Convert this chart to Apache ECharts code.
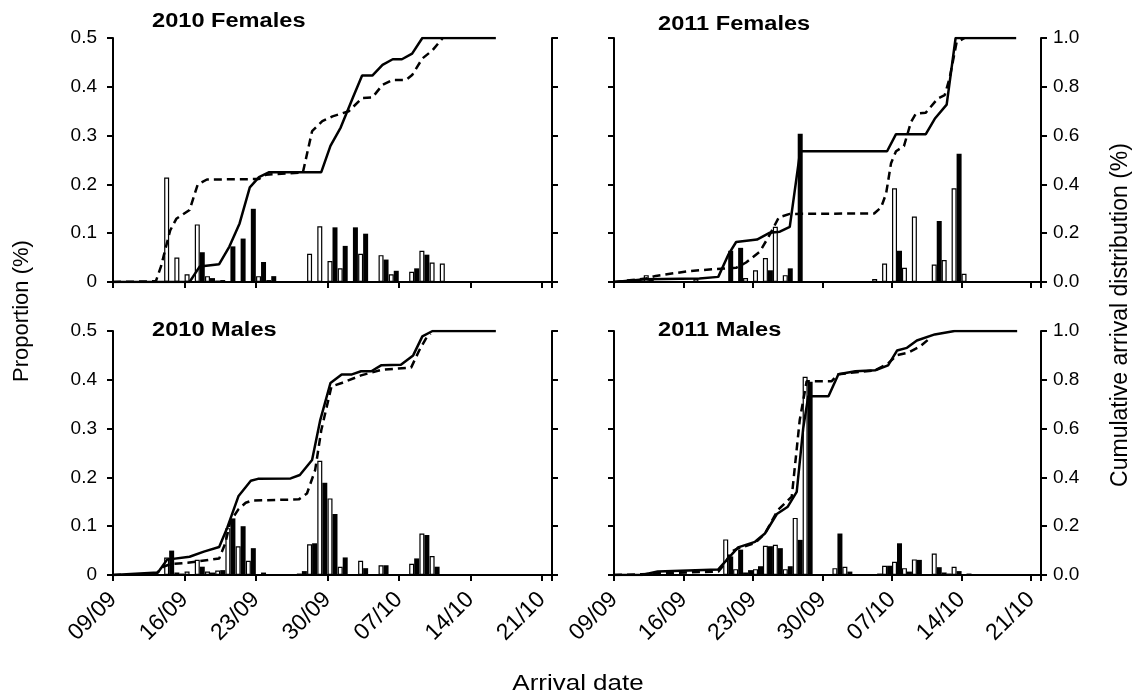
<!DOCTYPE html>
<html>
<head>
<meta charset="utf-8">
<script src="https://cdn.jsdelivr.net/npm/echarts@6/dist/echarts.min.js"></script>
<style>
  html, body { margin: 0; padding: 0; background: #fff; }
  #chart { width: 1142px; height: 700px; }
</style>
</head>
<body>
<div id="chart"></div>
<script>
// tick labels for the date axis (every 7 days from 09/09)
var tickLabels = ['09/09', '16/09', '23/09', '30/09', '07/10', '14/10', '21/10'];

// 2010 Females - daily proportions (white / black bars)
var f10Days  = [5, 6, 7, 8, 9, 10, 11, 12, 13, 14, 15, 19, 20, 21, 22, 23, 24, 26, 27, 29, 30, 31, 32];
var f10White = [0.214, 0.05, 0.016, 0.118, 0.012, 0.003, 0, 0, 0, 0.012, 0.004, 0.058, 0.114, 0.043, 0.028, 0, 0.058, 0.055, 0.016, 0.021, 0.064, 0.04, 0.038];
var f10Black = [0, 0, 0, 0.061, 0.008, 0.004, 0.073, 0.089, 0.15, 0.041, 0.012, 0, 0, 0.112, 0.074, 0.112, 0.099, 0.046, 0.023, 0.028, 0.056, 0, 0];
// cumulative curves
var f10SolidX = [0, 7.5, 8.5, 10.4, 11.4, 12.4, 13.4, 14.3, 15.3, 20.4, 21.3, 22.3, 23.5, 24.4, 25.4, 26.4, 27.4, 28.3, 29.3, 30.3, 37.5];
var f10SolidY = [0, 0, 0.064, 0.073, 0.145, 0.24, 0.388, 0.43, 0.45, 0.45, 0.558, 0.633, 0.756, 0.846, 0.846, 0.89, 0.913, 0.913, 0.936, 1.0, 1.0];
var f10DashX = [0, 4.2, 4.7, 5.1, 5.6, 6.2, 7.5, 8.3, 9.2, 14.3, 15.0, 18.6, 19.5, 20.5, 21.5, 23.1, 24.4, 25.4, 26.4, 27.4, 28.7, 29.3, 30.3, 31.3, 32.3];
var f10DashY = [0, 0.003, 0.064, 0.13, 0.211, 0.259, 0.295, 0.4, 0.42, 0.422, 0.44, 0.449, 0.618, 0.659, 0.679, 0.7, 0.754, 0.756, 0.808, 0.828, 0.828, 0.848, 0.916, 0.95, 1.0];

// 2011 Females
var f11Days  = [3, 8, 11, 12, 13, 14, 15, 16, 17, 18, 26, 27, 28, 29, 30, 32, 33, 34, 35];
var f11White = [0.014, 0.006, 0, 0, 0.008, 0.024, 0.049, 0.113, 0.014, 0, 0.006, 0.038, 0.192, 0.029, 0.134, 0.036, 0.045, 0.192, 0.017];
var f11Black = [0.005, 0, 0.064, 0.07, 0, 0, 0.024, 0, 0.028, 0.304, 0, 0, 0.064, 0, 0, 0.125, 0, 0.263, 0];
var f11SolidX = [0, 3.2, 8.6, 10.5, 11.5, 12.3, 14.4, 15.7, 16.7, 17.7, 18.75, 27.5, 28.4, 31.4, 32.3, 33.5, 34.4, 40.5];
var f11SolidY = [0, 0.011, 0.014, 0.021, 0.111, 0.164, 0.174, 0.202, 0.206, 0.226, 0.536, 0.536, 0.606, 0.606, 0.669, 0.727, 1.0, 1.0];
var f11DashX = [0, 3.2, 4.2, 7.6, 11.3, 12.3, 13.3, 14.7, 15.7, 16.6, 17.7, 26.2, 26.9, 27.4, 27.9, 28.4, 29.2, 29.9, 30.4, 31.4, 32.6, 33.3, 33.8, 34.5, 35.3];
var f11DashY = [0, 0.014, 0.025, 0.045, 0.056, 0.058, 0.08, 0.125, 0.195, 0.265, 0.279, 0.281, 0.306, 0.362, 0.487, 0.536, 0.557, 0.655, 0.69, 0.694, 0.752, 0.766, 0.836, 0.982, 1.0];

// 2010 Males
var m10Days  = [5, 6, 7, 8, 9, 10, 11, 12, 13, 14, 18, 19, 20, 21, 22, 24, 26, 29, 30, 31, 32];
var m10White = [0.036, 0.005, 0.007, 0.031, 0.007, 0.009, 0.096, 0.059, 0.029, 0.002, 0.003, 0.063, 0.234, 0.157, 0.017, 0.029, 0.02, 0.023, 0.085, 0.039, 0];
var m10Black = [0.05, 0.003, 0.002, 0.017, 0.005, 0.01, 0.116, 0.1, 0.055, 0.005, 0.008, 0.065, 0.189, 0.125, 0.036, 0.014, 0.02, 0.034, 0.082, 0.017, 0.002];
var m10SolidX = [0, 4.4, 5.3, 7.5, 8.9, 10.4, 11.2, 12.3, 13.5, 14.2, 17.4, 18.3, 19.5, 20.3, 21.3, 22.4, 23.4, 24.3, 25.3, 26.3, 28.2, 29.4, 30.3, 31.3, 37.5];
var m10SolidY = [0, 0.01, 0.063, 0.075, 0.096, 0.115, 0.195, 0.324, 0.386, 0.394, 0.396, 0.41, 0.471, 0.635, 0.787, 0.822, 0.822, 0.835, 0.835, 0.86, 0.862, 0.9, 0.978, 1.0, 1.0];
var m10DashX = [0, 4.2, 4.9, 5.7, 7.3, 10.4, 11.0, 11.5, 12.3, 13.0, 13.6, 18.2, 19.0, 19.8, 20.4, 21.4, 22.4, 24.3, 26.3, 29.2, 30.0, 30.65, 31.1];
var m10DashY = [0, 0.004, 0.034, 0.045, 0.05, 0.068, 0.13, 0.22, 0.27, 0.296, 0.305, 0.31, 0.334, 0.43, 0.593, 0.773, 0.787, 0.818, 0.841, 0.85, 0.921, 0.969, 0.989];

// 2011 Males
var m11Days  = [11, 12, 13, 14, 15, 16, 17, 18, 19, 22, 23, 26, 27, 28, 29, 30, 32, 33, 34, 35];
var m11White = [0.073, 0.012, 0.005, 0.012, 0.06, 0.062, 0.012, 0.117, 0.406, 0.014, 0.017, 0, 0.019, 0.027, 0.014, 0.032, 0.044, 0.005, 0.017, 0];
var m11Black = [0.038, 0.052, 0.01, 0.018, 0.059, 0.055, 0.018, 0.072, 0.396, 0.085, 0.007, 0.003, 0.019, 0.065, 0.007, 0.031, 0.016, 0.003, 0.008, 0.003];
var m11SolidX = [0, 2.8, 4.4, 10.5, 11.5, 12.5, 14.2, 15.2, 16.4, 17.5, 18.4, 19.05, 19.56, 21.6, 22.6, 24.3, 26.3, 27.6, 28.5, 29.5, 30.5, 32.3, 34.3, 40.6];
var m11SolidY = [0, 0, 0.014, 0.023, 0.068, 0.113, 0.136, 0.17, 0.25, 0.28, 0.341, 0.6, 0.733, 0.733, 0.823, 0.835, 0.839, 0.859, 0.92, 0.931, 0.961, 0.986, 1.0, 1.0];
var m11DashX = [0, 2.8, 4.4, 10.5, 11.2, 11.8, 12.5, 14.2, 15.2, 16.5, 17.9, 18.7, 19.4, 21.9, 22.6, 26.3, 27.6, 28.5, 29.6, 30.8, 31.8];
var m11DashY = [0, 0.003, 0.007, 0.014, 0.048, 0.095, 0.109, 0.131, 0.17, 0.266, 0.321, 0.634, 0.794, 0.794, 0.823, 0.839, 0.867, 0.901, 0.911, 0.936, 0.97];

var panels = [
    {title: '2010 Females', days: f10Days, white: f10White, black: f10Black, sx: f10SolidX, sy: f10SolidY, dx: f10DashX, dy: f10DashY},
    {title: '2011 Females', days: f11Days, white: f11White, black: f11Black, sx: f11SolidX, sy: f11SolidY, dx: f11DashX, dy: f11DashY},
    {title: '2010 Males', days: m10Days, white: m10White, black: m10Black, sx: m10SolidX, sy: m10SolidY, dx: m10DashX, dy: m10DashY},
    {title: '2011 Males', days: m11Days, white: m11White, black: m11Black, sx: m11SolidX, sy: m11SolidY, dx: m11DashX, dy: m11DashY}
];

var grids = [
    {left: 113, top: 38, width: 439, height: 244},
    {left: 614, top: 38, width: 427, height: 244},
    {left: 113, top: 331, width: 439, height: 244},
    {left: 614, top: 331, width: 427, height: 244}
];
var titlePos = [[152, 21], [658, 24], [152, 330], [658, 330]];

var FONT = 'Liberation Sans, Arial, sans-serif';
var axisLine = {show: true, lineStyle: {color: '#000', width: 2}};
var axisTick = {show: true, inside: false, length: 6, lineStyle: {color: '#000', width: 2}};

var xAxes = [], yAxes = [], series = [], graphics = [];

function zip(xs, ys) {
    return xs.map(function (x, j) { return [x, ys[j]]; });
}

panels.forEach(function (p, i) {
    var bottom = i >= 2, right = i % 2 === 1;
    xAxes.push({
        gridIndex: i, type: 'value', min: 0, max: 43, interval: 7,
        axisLine: axisLine, axisTick: axisTick, splitLine: {show: false},
        axisLabel: {
            show: bottom, rotate: 45, margin: 21, color: '#000', fontSize: 23, fontFamily: FONT,
            formatter: function (v) { return v % 7 === 0 ? tickLabels[v / 7] : ''; }
        }
    });
    yAxes.push({
        gridIndex: i, type: 'value', position: 'left', min: 0, max: 0.5, interval: 0.1,
        axisLine: axisLine, axisTick: axisTick, splitLine: {show: false},
        axisLabel: {
            show: !right, margin: 16, color: '#000', fontSize: 19, fontFamily: FONT,
            formatter: function (v) { return v === 0 ? '0' : v.toFixed(1); }
        }
    });
    yAxes.push({
        gridIndex: i, type: 'value', position: 'right', min: 0, max: 1, interval: 0.2,
        axisLine: axisLine, axisTick: axisTick, splitLine: {show: false},
        axisLabel: {
            show: right, margin: 12, color: '#000', fontSize: 19, fontFamily: FONT,
            formatter: function (v) { return v.toFixed(1); }
        }
    });

    // bars: pair of white / black per day, centred in the day slot
    series.push({
        type: 'bar', xAxisIndex: i, yAxisIndex: 2 * i, barWidth: 5, barGap: '0%',
        data: p.days.map(function (d, j) { return [d + 0.5, p.white[j]]; }),
        itemStyle: {color: '#fff', borderColor: '#000', borderWidth: 1.2}, z: 2
    });
    series.push({
        type: 'bar', xAxisIndex: i, yAxisIndex: 2 * i, barWidth: 5, barGap: '0%',
        data: p.days.map(function (d, j) { return [d + 0.5, p.black[j]]; }),
        itemStyle: {color: '#000'}, z: 2
    });
    series.push({
        type: 'line', xAxisIndex: i, yAxisIndex: 2 * i + 1, showSymbol: false,
        data: zip(p.dx, p.dy), lineStyle: {color: '#000', width: 2.5, type: [8, 5]}, z: 3
    });
    series.push({
        type: 'line', xAxisIndex: i, yAxisIndex: 2 * i + 1, showSymbol: false,
        data: zip(p.sx, p.sy), lineStyle: {color: '#000', width: 2.5}, z: 4
    });

    graphics.push({
        type: 'text', x: titlePos[i][0], y: titlePos[i][1], scaleX: 1.18,
        style: {text: p.title, fill: '#000', font: 'bold 20px ' + FONT, verticalAlign: 'middle'}
    });
});

graphics.push({
    type: 'text', x: 22, y: 311, rotation: Math.PI / 2,
    style: {text: 'Proportion (%)', fill: '#000', font: '22px ' + FONT, align: 'center', verticalAlign: 'middle'}
});
graphics.push({
    type: 'text', x: 1121, y: 315, rotation: Math.PI / 2,
    style: {text: 'Cumulative arrival distribution (%)', fill: '#000', font: '23px ' + FONT, align: 'center', verticalAlign: 'middle'}
});
graphics.push({
    type: 'text', x: 578, y: 684, scaleX: 1.18,
    style: {text: 'Arrival date', fill: '#000', font: '22px ' + FONT, align: 'center', verticalAlign: 'middle'}
});

var chart = echarts.init(document.getElementById('chart'));
chart.setOption({
    animation: false,
    backgroundColor: '#fff',
    grid: grids,
    xAxis: xAxes,
    yAxis: yAxes,
    series: series,
    graphic: graphics
});
window.onresize = chart.resize;
</script>
</body>
</html>
